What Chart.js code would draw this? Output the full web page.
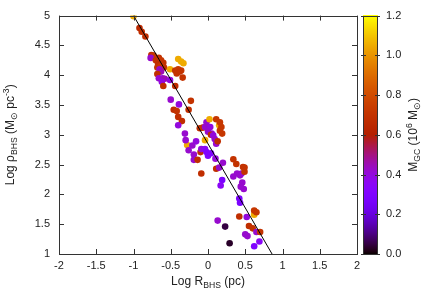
<!DOCTYPE html>
<html>
<head>
<meta charset="utf-8">
<script src="https://cdn.jsdelivr.net/npm/chart.js@4.4.0/dist/chart.umd.min.js"></script>
<style>
  html, body { margin: 0; padding: 0; background: #fff; }
  #wrap { width: 436px; height: 305px; }
</style>
</head>
<body>
<div id="wrap"><canvas id="chart" width="436" height="305"></canvas></div>
<script>
// Log R_BHS (pc)
const logR = [
  -1.00, -0.92, -0.89, -0.84, -0.76, -0.73, -0.77, -0.70, -0.66, -0.63,
  -0.60, -0.67, -0.68, -0.63, -0.59, -0.65, -0.63, -0.68, -0.66, -0.61,
  -0.58, -0.62, -0.60, -0.51, -0.51, -0.40, -0.36, -0.33, -0.44, -0.40,
  -0.36, -0.42, -0.38, -0.34, -0.44, -0.50, -0.23, -0.39, -0.46, -0.42,
  -0.26, -0.40, -0.35, -0.40, -0.31, -0.28, -0.30, -0.26, -0.21, -0.19,
  -0.19, -0.14, -0.10, -0.09, -0.16, -0.11, -0.07, -0.02, -0.04, 0.02,
  0.03, 0.00, 0.05, 0.04, 0.07, 0.09, 0.11, -0.04, -0.09, -0.04,
  -0.02, 0.00, 0.04, 0.11, 0.15, 0.16, 0.18, 0.19, 0.16, 0.13,
  0.10, 0.11, 0.15, 0.20, 0.19, 0.17, 0.34, 0.38, 0.34, 0.39,
  0.43, 0.45, 0.47, 0.49, 0.49, 0.46, 0.48, 0.42, 0.43, 0.42,
  0.52, 0.44, 0.13, 0.23, 0.29, 0.55, 0.60, 0.62, 0.62, 0.65,
  0.65, 0.70, 0.50, 0.53, 0.62, 0.69
];
// Log rho_BHS (Msun pc^-3)
const logRho = [
  4.99, 4.79, 4.73, 4.65, 4.34, 4.33, 4.29, 4.25, 4.29, 4.25,
  4.21, 4.19, 4.13, 4.16, 4.13, 4.10, 4.06, 4.02, 3.95, 3.95,
  3.94, 3.89, 3.82, 3.92, 4.10, 4.27, 4.23, 4.20, 4.08, 4.10,
  4.08, 4.03, 4.06, 3.96, 3.82, 3.59, 3.57, 3.51, 3.42, 3.40,
  3.42, 3.30, 3.23, 3.16, 3.02, 2.83, 2.91, 2.74, 2.82, 2.67,
  2.58, 2.58, 2.71, 2.35, 2.89, 3.11, 3.12, 3.21, 3.13, 3.26,
  3.13, 3.05, 3.02, 3.00, 2.99, 2.93, 2.85, 2.91, 2.76, 2.76,
  2.71, 2.65, 2.69, 3.26, 3.16, 3.21, 3.13, 3.02, 3.07, 2.89,
  2.60, 2.43, 2.45, 2.53, 2.24, 2.15, 2.59, 2.51, 2.30, 2.35,
  2.32, 2.35, 2.46, 2.38, 2.45, 2.20, 2.09, 1.93, 1.86, 1.63,
  1.62, 2.13, 1.56, 1.46, 1.18, 1.47, 1.43, 1.66, 1.73, 1.70,
  1.37, 1.37, 1.33, 1.30, 1.13, 1.21
];
// M_GC (10^6 Msun)
const massGC = [
  1.05, 0.65, 0.68, 0.68, 0.68, 0.72, 0.42, 0.70, 0.70, 0.72,
  0.70, 0.68, 0.70, 0.72, 0.70, 0.42, 0.45, 0.68, 0.42, 0.42,
  0.45, 0.40, 0.68, 0.40, 1.05, 1.05, 1.05, 1.05, 0.70, 0.72,
  0.72, 0.70, 0.70, 0.70, 0.68, 0.42, 0.70, 0.40, 0.68, 0.70,
  0.68, 0.68, 0.68, 0.40, 0.42, 1.05, 0.42, 0.42, 0.42, 0.42,
  0.42, 0.68, 0.68, 0.68, 0.40, 0.68, 0.70, 0.42, 0.42, 1.05,
  0.40, 0.42, 0.40, 0.68, 0.40, 0.42, 0.42, 1.05, 0.40, 0.35,
  0.30, 0.30, 0.30, 0.72, 1.05, 0.72, 0.72, 0.72, 0.72, 0.68,
  0.40, 0.68, 0.42, 0.42, 0.28, 0.35, 0.70, 0.70, 0.42, 0.42,
  0.42, 0.42, 0.70, 0.70, 0.70, 0.42, 0.42, 0.28, 0.28, 0.68,
  0.40, 0.42, 0.42, 0.05, 0.03, 0.68, 0.70, 1.05, 0.72, 0.72,
  0.42, 0.70, 0.42, 0.42, 0.30, 0.35
];
// fitted relation, end points
const fitX = [-1.0, 0.86];
const fitY = [5.0, 1.0];

const xTicks = [-2, -1.5, -1, -0.5, 0, 0.5, 1, 1.5, 2];
const yTicks = [1, 1.5, 2, 2.5, 3, 3.5, 4, 4.5, 5];
const cbTicks = [0, 0.2, 0.4, 0.6, 0.8, 1.0, 1.2];
const cbMax = 1.2;

// gnuplot rgbformulae 7,5,15
function palette(v) {
    let t = Math.max(0, Math.min(1, v / cbMax));
    let r = Math.sqrt(t);
    let g = t * t * t;
    let b = Math.max(0, Math.sin(2 * Math.PI * t));
    return `rgb(${Math.round(r * 255)},${Math.round(g * 255)},${Math.round(b * 255)})`;
}

const FONT = '"Liberation Sans", Arial, sans-serif';

// draws text made of pieces, some of them sub/superscript
function richText(ctx, parts, size) {
    let w = 0;
    parts.forEach(p => {
        ctx.font = `${p.s || p.u ? size * 0.72 : size}px ${FONT}`;
        p.w = ctx.measureText(p.t).width;
        w += p.w;
    });
    let x = -w / 2;
    parts.forEach(p => {
        ctx.font = `${p.s || p.u ? size * 0.72 : size}px ${FONT}`;
        let dy = p.s ? size * 0.3 : (p.u ? -size * 0.4 : 0);
        ctx.fillText(p.t, x, dy);
        x += p.w;
    });
}

const framePlugin = {
    id: 'frame',
    afterDatasetsDraw(chart) {
        const ctx = chart.ctx;
        const a = chart.chartArea;
        const xs = chart.scales.x, ys = chart.scales.y;
        ctx.save();
        ctx.strokeStyle = '#333';
        ctx.lineWidth = 1;
        ctx.strokeRect(Math.round(a.left) + 0.5, Math.round(a.top) + 0.5,
            Math.round(a.right - a.left), Math.round(a.bottom - a.top));
        ctx.beginPath();
        xTicks.forEach(v => {
            let px = Math.round(xs.getPixelForValue(v)) + 0.5;
            ctx.moveTo(px, a.bottom); ctx.lineTo(px, a.bottom - 5);
            ctx.moveTo(px, a.top); ctx.lineTo(px, a.top + 5);
        });
        yTicks.forEach(v => {
            let py = Math.round(ys.getPixelForValue(v)) + 0.5;
            ctx.moveTo(a.left, py); ctx.lineTo(a.left + 5, py);
            ctx.moveTo(a.right, py); ctx.lineTo(a.right - 5, py);
        });
        ctx.stroke();
        ctx.restore();
    },
    afterDraw(chart) {
        const ctx = chart.ctx;
        const a = chart.chartArea;
        ctx.save();
        ctx.fillStyle = '#222';
        ctx.textBaseline = 'middle';
        ctx.textAlign = 'left';

        // x title
        ctx.save();
        ctx.translate((a.left + a.right) / 2, 282);
        richText(ctx, [{t: 'Log R'}, {t: 'BHS', s: 1}, {t: ' (pc)'}], 12);
        ctx.restore();

        // y title
        ctx.save();
        ctx.translate(11, (a.top + a.bottom) / 2);
        ctx.rotate(-Math.PI / 2);
        richText(ctx, [{t: 'Log \u03c1'}, {t: 'BHS', s: 1}, {t: ' (M'}, {t: '\u2299', s: 1},
            {t: ' pc'}, {t: '-3', u: 1}, {t: ')'}], 12);
        ctx.restore();

        // colour box
        const cx0 = 363, cx1 = 378;
        const top = a.top, bot = a.bottom;
        for (let y = Math.floor(top); y < bot; y++) {
            let v = (bot - y - 0.5) / (bot - top) * cbMax;
            ctx.fillStyle = palette(v);
            ctx.fillRect(cx0, y, cx1 - cx0, 1);
        }
        ctx.strokeStyle = '#333';
        ctx.strokeRect(cx0 + 0.5, Math.round(top) + 0.5, cx1 - cx0 - 1, Math.round(bot - top));
        ctx.beginPath();
        cbTicks.forEach(v => {
            let py = Math.round(bot - v / cbMax * (bot - top)) + 0.5;
            ctx.moveTo(cx0 - 2, py); ctx.lineTo(cx0 + 3, py);
            ctx.moveTo(cx1 - 3, py); ctx.lineTo(cx1 + 2, py);
        });
        ctx.stroke();
        ctx.fillStyle = '#222';
        ctx.font = `11px ${FONT}`;
        cbTicks.forEach(v => {
            let py = bot - v / cbMax * (bot - top);
            ctx.fillText(v.toFixed(1), 386, py);
        });

        // colour box title
        ctx.save();
        ctx.translate(414, (a.top + a.bottom) / 2);
        ctx.rotate(-Math.PI / 2);
        richText(ctx, [{t: 'M'}, {t: 'GC', s: 1}, {t: ' (10'}, {t: '6', u: 1}, {t: ' M'},
            {t: '\u2299', s: 1}, {t: ')'}], 12);
        ctx.restore();
        ctx.restore();
    }
};

const points = logR.map((x, i) => ({x: x, y: logRho[i]}));
const fitLine = fitX.map((x, i) => ({x: x, y: fitY[i]}));

new Chart(document.getElementById('chart'), {
    type: 'scatter',
    data: {
        datasets: [{
            type: 'line',
            data: fitLine,
            borderColor: '#000',
            borderWidth: 1,
            pointRadius: 0,
            fill: false,
            order: 0
        }, {
            data: points,
            pointRadius: 3.3,
            pointBorderWidth: 0,
            pointBackgroundColor: massGC.map(palette),
            pointBorderColor: massGC.map(palette),
            order: 1
        }]
    },
    options: {
        responsive: false,
        animation: false,
        layout: { padding: { top: 15, right: 79, left: 0, bottom: 0 } },
        plugins: { legend: { display: false }, tooltip: { enabled: false } },
        scales: {
            x: {
                type: 'linear',
                min: -2, max: 2,
                afterBuildTicks(s) { s.ticks = xTicks.map(v => ({value: v})); },
                afterFit(s) { s.height = 51; },
                grid: { display: false, drawTicks: false, tickLength: 0 },
                border: { display: false },
                ticks: {
                    padding: 5,
                    color: '#222',
                    font: { family: FONT, size: 11 },
                    maxRotation: 0,
                    callback: v => String(v)
                }
            },
            y: {
                type: 'linear',
                min: 1, max: 5,
                afterBuildTicks(s) { s.ticks = yTicks.map(v => ({value: v})); },
                afterFit(s) { s.width = 59; },
                grid: { display: false, drawTicks: false, tickLength: 0 },
                border: { display: false },
                ticks: {
                    padding: 9,
                    color: '#222',
                    font: { family: FONT, size: 11 },
                    callback: v => String(v)
                }
            }
        }
    },
    plugins: [framePlugin]
});
</script>
</body>
</html>
